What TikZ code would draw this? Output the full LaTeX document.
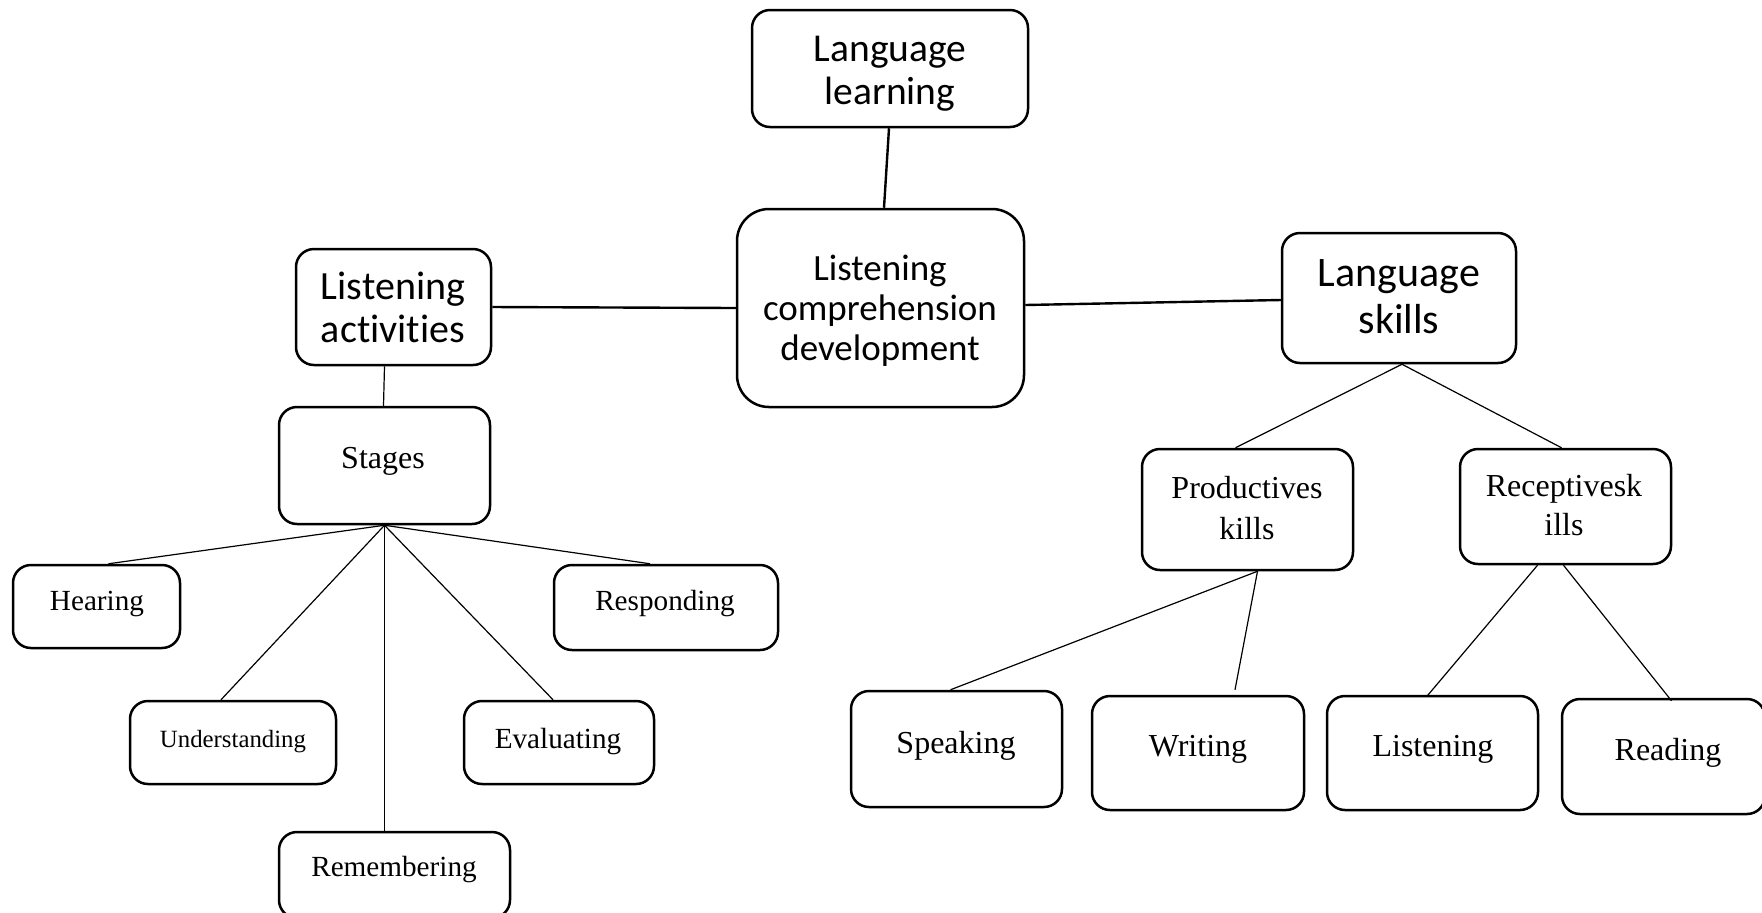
\documentclass[tikz,border=0pt]{standalone}
\usepackage{fontspec}
\setmainfont{Liberation Serif}
\newfontfamily\calibri[Ligatures=NoCommon]{Carlito}
\tikzset{
  box/.style={draw, line width=1.25pt, rounded corners=9pt, inner sep=0pt},
  bigbox/.style={box, rounded corners=16pt},
  heavylink/.style={line width=1.2pt},
  lightlink/.style={line width=0.6pt},
  lbl/.style={inner sep=0pt, align=center},
  sansA/.style={lbl, font=\calibri\fontsize{19.75}{21.4}\selectfont},
  sansB/.style={lbl, font=\calibri\fontsize{18.5}{20}\selectfont},
  sansC/.style={lbl, font=\calibri\fontsize{20}{21.4}\selectfont},
  sansD/.style={lbl, font=\calibri\fontsize{21}{23.6}\selectfont},
  serifS/.style={lbl, font=\fontsize{12.4}{14}\selectfont},
  serifM/.style={lbl, font=\fontsize{14.6}{17}\selectfont},
  serifL/.style={lbl, font=\fontsize{16}{20.2}\selectfont},
}
\begin{document}
\begin{tikzpicture}[x=0.5pt,y=-0.5pt]
\path[use as bounding box] (0,0) rectangle (1762,912);
\clip (0,0) rectangle (1762,912);

% top level boxes
\node[box, minimum width=138pt, minimum height=58.5pt] (ll) at (890,68.5) {};
\node[bigbox, minimum width=143.5pt, minimum height=99pt] (lcd) at (880.5,308) {};
\node[box, minimum width=97.5pt, minimum height=58pt] (la) at (393.5,307) {};
\node[box, minimum width=117pt, minimum height=65pt] (ls) at (1399,298) {};

% listening activities branch
\node[box, minimum width=105.5pt, minimum height=58.5pt] (stages) at (384.5,465.5) {};
\node[box, minimum width=83.5pt, minimum height=41.5pt] (hear) at (96.5,606.5) {};
\node[box, minimum width=112pt, minimum height=42.5pt] (resp) at (666,607.5) {};
\node[box, minimum width=103pt, minimum height=41.5pt] (under) at (233,742.5) {};
\node[box, minimum width=95pt, minimum height=41.5pt] (eval) at (559,742.5) {};
\node[box, minimum width=115.5pt, minimum height=43pt] (remem) at (394.5,875) {};

% language skills branch
\node[box, minimum width=105.5pt, minimum height=60.5pt] (prod) at (1247.5,509.5) {};
\node[box, minimum width=105.5pt, minimum height=57.5pt] (recep) at (1565.5,506.5) {};
\node[box, minimum width=105.5pt, minimum height=58pt] (speak) at (956.5,749) {};
\node[box, minimum width=106pt, minimum height=57pt] (write) at (1198,753) {};
\node[box, minimum width=105.5pt, minimum height=57pt] (listen) at (1432.5,753) {};
\node[box, minimum width=101.5pt, minimum height=57.5pt] (read) at (1663.5,756.5) {};

% labels
\node[sansA] (ll-t) at (890,74) {Language\\learning};
\node[sansB] (lcd-t) at (880,311) {Listening\\comprehension\\development};
\node[sansC] (la-t) at (393,307) {Listening\\activities};
\node[sansD] (ls-t) at (1399,297) {Language\\skills};
\node[serifL] (stages-t) at (383,461) {Stages};
\node[serifM] (hear-t) at (97,604) {Hearing};
\node[serifM] (resp-t) at (665,604) {Responding};
\node[serifS] (under-t) at (233,742) {Understanding};
\node[serifM] (eval-t) at (558,742) {Evaluating};
\node[serifM] (remem-t) at (394,870) {Remembering};
\node[serifL] (prod-t) at (1247,508) {Productives\\kills};
\node[serifL, font=\fontsize{16}{19.7}\selectfont] (recep-t) at (1564,505) {Receptivesk\\ills};
\node[serifL] (speak-t) at (956,746) {Speaking};
\node[serifL] (write-t) at (1198,749) {Writing};
\node[serifL] (listen-t) at (1433,749) {Listening};
\node[serifL] (read-t) at (1668,753) {Reading};

% main connectors
\draw[heavylink] ([xshift=-0.5pt]ll.south) -- ([xshift=1.75pt]lcd.north);
\draw[heavylink] (la.east) -- (lcd.west);
\draw[heavylink] ([yshift=1.5pt]lcd.east) -- ([yshift=-1pt]ls.west);

% listening activities fan
\draw[lightlink] ([xshift=-4.5pt]la.south) -- ([xshift=-0.5pt]stages.north);
\draw[lightlink] (stages.south) -- ([xshift=6pt]hear.north);
\draw[lightlink] (stages.south) -- ([xshift=-6pt]under.north);
\draw[lightlink] (stages.south) -- ([xshift=-5pt]remem.north);
\draw[lightlink] (stages.south) -- ([xshift=-3pt]eval.north);
\draw[lightlink] (stages.south) -- ([xshift=-8pt]resp.north);

% language skills tree
\draw[lightlink] ([xshift=1.5pt]ls.south) -- ([xshift=-6pt]prod.north);
\draw[lightlink] ([xshift=1.5pt]ls.south) -- ([xshift=-2pt]recep.north);
\draw[lightlink] ([xshift=5pt]prod.south) -- ([xshift=-3pt]speak.north);
\draw[lightlink] ([xshift=5pt]prod.south) -- ([xshift=18.5pt,yshift=2.5pt]write.north);
\draw[lightlink] ([xshift=-14pt]recep.south) -- ([xshift=-3pt,yshift=-1pt]listen.north);
\draw[lightlink] ([xshift=-1pt]recep.south) -- ([xshift=4pt,yshift=-1.5pt]read.north);
\end{tikzpicture}
\end{document}
